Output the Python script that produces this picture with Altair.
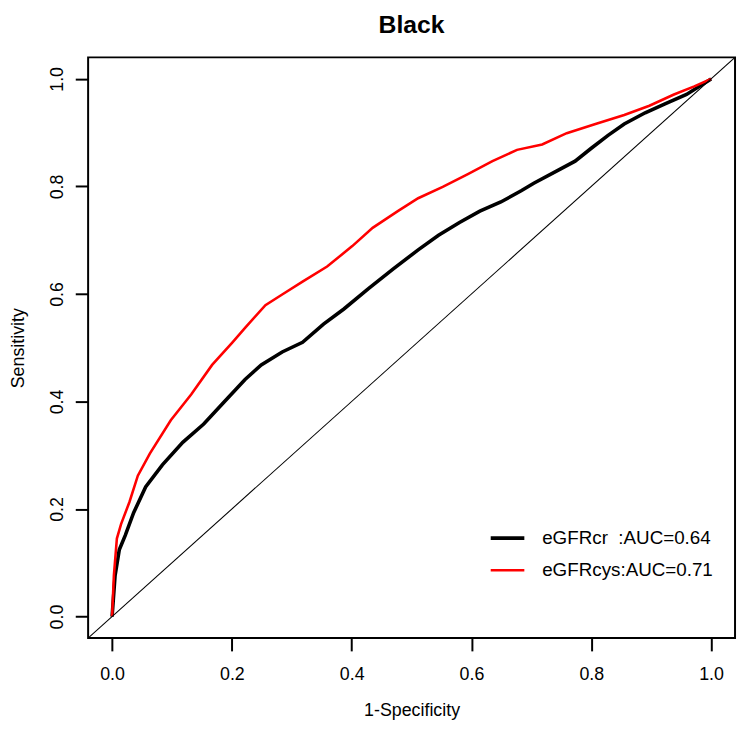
import altair as alt
import pandas as pd

# ROC curve points
fpr_cr = [0.0, 0.005, 0.012, 0.022, 0.036, 0.056, 0.084, 0.118, 0.153, 0.187, 0.222, 0.249,
          0.284, 0.318, 0.353, 0.387, 0.428, 0.470, 0.511, 0.545, 0.580, 0.614, 0.649, 0.683,
          0.704, 0.738, 0.773, 0.800, 0.828, 0.855, 0.890, 0.924, 0.959, 1.0]
tpr_cr = [0.0, 0.076, 0.124, 0.151, 0.193, 0.241, 0.282, 0.324, 0.358, 0.399, 0.441, 0.468,
          0.492, 0.510, 0.544, 0.572, 0.610, 0.647, 0.682, 0.709, 0.733, 0.754, 0.771, 0.792,
          0.806, 0.826, 0.847, 0.871, 0.895, 0.916, 0.937, 0.954, 0.971, 1.0]

fpr_cys = [0.0, 0.003, 0.008, 0.015, 0.029, 0.043, 0.063, 0.098, 0.132, 0.167, 0.201, 0.222,
           0.256, 0.284, 0.318, 0.359, 0.401, 0.435, 0.477, 0.511, 0.552, 0.594, 0.635, 0.676,
           0.718, 0.759, 0.807, 0.855, 0.897, 0.938, 0.972, 1.0]
tpr_cys = [0.0, 0.076, 0.145, 0.172, 0.213, 0.262, 0.303, 0.365, 0.413, 0.468, 0.510, 0.537,
           0.579, 0.599, 0.623, 0.651, 0.689, 0.723, 0.754, 0.778, 0.799, 0.823, 0.847, 0.868,
           0.878, 0.899, 0.916, 0.933, 0.950, 0.971, 0.986, 1.0]

series_names = ["eGFRcr\u00a0\u00a0:AUC=0.64", "eGFRcys:AUC=0.71"]
series_colors = ["#000000", "#ff0000"]
series_widths = [3.6, 2.6]

diag = [-0.04, 1.04]
ticks = [0.0, 0.2, 0.4, 0.6, 0.8, 1.0]

rows = []
for i, (x, y) in enumerate(zip(fpr_cr, tpr_cr)):
    rows.append({"fpr": x, "tpr": y, "series": series_names[0], "i": i})
for i, (x, y) in enumerate(zip(fpr_cys, tpr_cys)):
    rows.append({"fpr": x, "tpr": y, "series": series_names[1], "i": i})
df = pd.DataFrame(rows)
diag_df = pd.DataFrame({"fpr": diag, "tpr": diag})

FONT = "Liberation Sans"
dom = [-0.04, 1.04]
xscale = alt.Scale(domain=dom, nice=False, zero=False)
yscale = alt.Scale(domain=dom, nice=False, zero=False)

xaxis = alt.Axis(values=ticks, format=".1f", title="1-Specificity",
                 titleX=327, titleY=73, titleBaseline="middle",
                 labelPadding=15, domain=False, grid=False,
                 tickColor="black", tickWidth=2, tickSize=13,
                 labelFont=FONT, labelFontSize=18, labelColor="black",
                 titleFont=FONT, titleFontSize=18, titleColor="black",
                 titleFontWeight="normal", labelFlush=False)
yaxis = alt.Axis(values=ticks, format=".1f", title="Sensitivity",
                 labelAngle=270, labelAlign="center", labelBaseline="bottom",
                 labelPadding=9, titleAngle=270, titleX=-70, titleY=293.5,
                 titleBaseline="middle", domain=False, grid=False,
                 tickColor="black", tickWidth=2, tickSize=13,
                 labelFont=FONT, labelFontSize=18, labelColor="black",
                 titleFont=FONT, titleFontSize=18, titleColor="black",
                 titleFontWeight="normal", labelFlush=False)

curves = alt.Chart(df).mark_line(clip=True).encode(
    x=alt.X("fpr:Q", scale=xscale, axis=xaxis),
    y=alt.Y("tpr:Q", scale=yscale, axis=yaxis),
    color=alt.Color("series:N",
                    scale=alt.Scale(domain=series_names, range=series_colors),
                    legend=alt.Legend(title=None, orient="none", legendX=405, legendY=467,
                                      symbolType="stroke", symbolSize=1156,
                                      symbolStrokeWidth=3.2, labelFontSize=19,
                                      labelFont=FONT, labelColor="black", labelLimit=0,
                                      labelOffset=16, rowPadding=4, padding=0)),
    strokeWidth=alt.StrokeWidth("series:N",
                                scale=alt.Scale(domain=series_names, range=series_widths),
                                legend=None),
    order=alt.Order("i:Q"),
)

diag_line = alt.Chart(diag_df).mark_line(color="black", strokeWidth=1.1, clip=True).encode(
    x=alt.X("fpr:Q", scale=xscale, axis=xaxis),
    y=alt.Y("tpr:Q", scale=yscale, axis=yaxis),
)

chart = alt.layer(curves, diag_line).properties(
    width=654,
    height=587,
    padding={"left": 81, "top": 46, "right": 3, "bottom": 83},
    autosize=alt.AutoSizeParams(type="none"),
    background="white",
    title=alt.TitleParams("Black", font=FONT, fontSize=25, fontWeight="bold",
                          anchor="middle", offset=20, color="black"),
).configure_view(
    stroke="black", strokeWidth=2
)

chart.save("out.html", embed_options={"renderer": "svg", "actions": False})
